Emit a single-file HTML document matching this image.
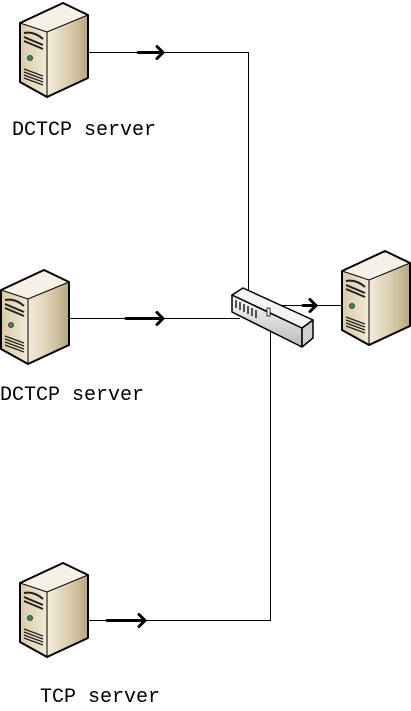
<!DOCTYPE html>
<html><head><meta charset="utf-8"><style>
html,body{margin:0;padding:0;background:#fff;}
svg{display:block}
text{font-family:"Liberation Mono","Noto Serif CJK SC",monospace;font-size:20px;fill:#000}
</style></head><body>
<svg width="411" height="711" viewBox="0 0 411 711" xmlns="http://www.w3.org/2000/svg">
<defs>
<linearGradient id="fr" x1="0" y1="0" x2="1" y2="0"><stop offset="0" stop-color="#d9caa6"/><stop offset="1" stop-color="#f2ead8"/></linearGradient>
<linearGradient id="sd" x1="0" y1="0" x2="1" y2="0"><stop offset="0" stop-color="#f3ecdc"/><stop offset="0.5" stop-color="#ddd0b2"/><stop offset="1" stop-color="#b9a67f"/></linearGradient>
<linearGradient id="sw" x1="0" y1="0" x2="0" y2="1"><stop offset="0" stop-color="#fafafa"/><stop offset="1" stop-color="#bcbcbc"/></linearGradient>
<g id="srv">
<polygon points="27,29 68,12 68,75 27,94" fill="url(#sd)"/>
<polygon points="0,20 27,29 27,94 0,79" fill="url(#fr)"/>
<polygon points="0,20 43,0 68,12 27,29" fill="#f6f1e6"/>
<path d="M4,30 Q14,28 23,36 M4,34 L23,42 M4,38 L23,46" stroke="#222" stroke-width="2" fill="none"/>
<circle cx="10" cy="55" r="2.5" fill="#3a8a6a" stroke="#222" stroke-width="0.8"/>
<path d="M4,66 L23,73 M4,69 L23,76 M4,72 L23,79 M4,75 L23,82" stroke="#222" stroke-width="1.2"/>
<polygon points="0,20 43,0 68,12 68,75 27,94 0,79" fill="none" stroke="#000" stroke-width="2" stroke-linejoin="round"/>
<path d="M0,20 L27,29 L68,12 M27,29 L27,94" stroke="#000" stroke-width="1" fill="none"/>
</g>
</defs>

<g stroke="#000" stroke-width="1" fill="none">
<path d="M89,52.5 H248.5 V292"/>
<path d="M70,318.5 H240"/>
<path d="M278,305.5 H342"/>
<path d="M89,620.5 H270.5 V310"/>
</g>
<g stroke="#000" stroke-width="3" fill="none" stroke-linecap="round">
<path d="M138,52.5 H163 M157,46.5 L163,52.5 L157,58.5"/>
<path d="M126,318.5 H163 M157,312.5 L163,318.5 L157,324.5"/>
<path d="M303,305.5 H316 M310,299.5 L316,305.5 L310,311.5"/>
<path d="M107,620.5 H145 M139,614.5 L145,620.5 L139,626.5"/>
</g>

<use href="#srv" x="20" y="3"/>
<use href="#srv" x="1" y="270"/>
<use href="#srv" x="20" y="563"/>
<use href="#srv" x="342" y="251"/>

<g stroke="#000" stroke-linejoin="round">
<polygon points="232,295 302,328 302,347 232,312" fill="url(#sw)" stroke-width="1.5"/>
<polygon points="302,328 313,320 313,338 302,347" fill="#d0d0d0" stroke-width="1.5"/>
<polygon points="232,295 243,288 313,320 302,328" fill="#f4f4f4" stroke-width="1.5"/>
<path d="M236,300 v8 M240,302 v8 M244,304 v8 M248,306 v8 M252,308 v8 M256,310 v8" stroke-width="1.3"/>
<rect x="267" y="308" width="3" height="8" fill="#fff" stroke-width="0.8"/>
</g>

<text x="12" y="135">DCTCP server</text>
<text x="0" y="400">DCTCP server</text>
<text x="40" y="702">TCP server</text>
</svg>
</body></html>
